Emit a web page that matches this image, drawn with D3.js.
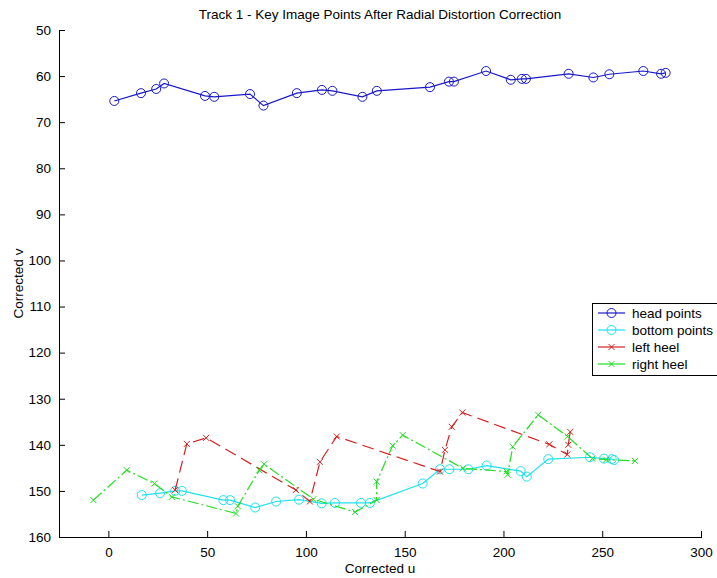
<!DOCTYPE html>
<meta charset="utf-8">
<style>
body { margin: 0; background: #fff; }
svg { font-family: "Liberation Sans", Arial, sans-serif; }
.axis path, .axis line { stroke: #000; stroke-width: 1px; }
.axis text { font-size: 13.5px; fill: #000; }
</style>
<svg width="717" height="578"></svg>
<script src="https://d3js.org/d3.v7.min.js"></script>
<script>

// head points
var headU = [3.0, 16.5, 24.2, 28.2, 48.9, 53.6, 71.7, 78.5, 95.4, 108.1, 113.4, 128.6, 135.9,
             162.8, 172.4, 174.9, 191.2, 203.7, 209.3, 211.4, 233.0, 245.5, 253.6, 270.8, 279.8, 282.1];
var headV = [65.4, 63.7, 62.8, 61.6, 64.3, 64.5, 63.9, 66.4, 63.7, 63.0, 63.2, 64.5, 63.2,
             62.4, 61.2, 61.2, 58.9, 60.8, 60.6, 60.6, 59.5, 60.3, 59.6, 58.9, 59.5, 59.3];

// bottom points
var bottomU = [16.9, 26.2, 33.8, 37.2, 58.2, 61.6, 74.3, 84.9, 96.5, 108.0, 114.7, 127.9, 132.4,
               159.1, 167.9, 172.6, 182.2, 191.5, 208.7, 211.8, 222.7, 243.8, 250.9, 254.8, 256.1];
var bottomV = [150.9, 150.5, 150.0, 150.0, 152.0, 152.0, 153.6, 152.3, 151.9, 152.7, 152.6, 152.6, 152.6,
               148.4, 145.3, 145.3, 145.3, 144.5, 145.7, 146.9, 143.1, 142.7, 143.0, 143.1, 143.3];

// left heel
var leftU = [33.8, 39.7, 49.5, 94.9, 102.0, 107.1, 115.6, 167.9, 170.4, 173.8, 179.2, 223.2, 232.3, 232.8, 233.8];
var leftV = [149.8, 139.8, 138.5, 149.8, 152.3, 143.7, 138.2, 145.8, 141.1, 136.1, 133.0, 139.9, 142.1, 140.0, 137.2];

// right heel
var rightU = [-7.6, 9.3, 23.3, 32.1, 64.6, 65.5, 76.4, 78.8, 103.8, 124.9, 135.8, 135.8, 143.9, 149.0,
              179.5, 201.6, 202.1, 204.7, 217.6, 232.5, 245.0, 252.0, 266.6];
var rightV = [152.0, 145.5, 148.4, 151.3, 154.9, 153.3, 145.5, 144.2, 151.8, 154.6, 152.0, 148.0, 140.2, 137.9,
              145.1, 145.8, 146.5, 140.4, 133.5, 138.2, 143.0, 143.2, 143.5];

var xTicks = [0, 50, 100, 150, 200, 250, 300];
var yTicks = [50, 60, 70, 80, 90, 100, 110, 120, 130, 140, 150, 160];

var series = [
  {name: "head points",   u: headU,   v: headV,   color: "#1818cc", marker: "o", dash: null},
  {name: "bottom points", u: bottomU, v: bottomV, color: "#1ee1ee", marker: "o", dash: null},
  {name: "left heel",     u: leftU,   v: leftV,   color: "#d42020", marker: "x", dash: "12,6"},
  {name: "right heel",    u: rightU,  v: rightV,  color: "#22dd22", marker: "x", dash: "11,3,2,3"}
];

var svg = d3.select("svg"),
    margin = {top: 30, right: 16, bottom: 41, left: 59},
    width = +svg.attr("width") - margin.left - margin.right,
    height = +svg.attr("height") - margin.top - margin.bottom;

var x = d3.scaleLinear().domain([-25, 300]).range([0, width]),
    y = d3.scaleLinear().domain([50, 160]).range([0, height]);

var g = svg.append("g")
    .attr("transform", "translate(" + margin.left + "," + margin.top + ")");

// axes, ticks pointing inward like matlab
g.append("g")
    .attr("class", "axis")
    .attr("transform", "translate(0," + height + ")")
    .call(d3.axisBottom(x).tickValues(xTicks).tickSizeInner(-6).tickSizeOuter(0).tickPadding(10))
  .select(".domain").attr("d", "M0,0.5H" + (width + 1));

g.append("g")
    .attr("class", "axis")
    .call(d3.axisLeft(y).tickValues(yTicks).tickSizeInner(-6).tickSizeOuter(0).tickPadding(8))
  .select(".domain").attr("d", "M0.5,0V" + height);

var line = d3.line()
    .x(function(d) { return x(d[0]); })
    .y(function(d) { return y(d[1]); });

function drawMarker(sel, type, color, r) {
  if (type === "o") {
    sel.append("circle").attr("r", r).attr("fill", "none").attr("stroke", color).attr("stroke-width", 1);
  } else {
    sel.append("path").attr("d", "M-3,-3L3,3M-3,3L3,-3").attr("stroke", color).attr("stroke-width", 1);
  }
}

series.forEach(function(s) {
  var pts = s.u.map(function(u, i) { return [u, s.v[i]]; });
  g.append("path")
      .datum(pts)
      .attr("fill", "none")
      .attr("stroke", s.color)
      .attr("stroke-width", 1.2)
      .attr("stroke-dasharray", s.dash)
      .attr("d", line);
  g.selectAll(null)
      .data(pts)
    .enter().append("g")
      .attr("transform", function(d) { return "translate(" + x(d[0]) + "," + y(d[1]) + ")"; })
      .each(function() { drawMarker(d3.select(this), s.marker, s.color, 4.5); });
});

// title and labels
svg.append("text")
    .attr("x", margin.left + width / 2)
    .attr("y", 19)
    .attr("text-anchor", "middle")
    .style("font-size", "13.5px")
    .text("Track 1 - Key Image Points After Radial Distortion Correction");

svg.append("text")
    .attr("x", margin.left + width / 2)
    .attr("y", 573)
    .attr("text-anchor", "middle")
    .style("font-size", "13.5px")
    .text("Corrected u");

svg.append("text")
    .attr("transform", "translate(23," + (margin.top + height / 2) + ") rotate(-90)")
    .attr("text-anchor", "middle")
    .style("font-size", "13.5px")
    .text("Corrected v");

// legend
var lg = svg.append("g").attr("transform", "translate(592,303)");
lg.append("rect")
    .attr("x", 0.5).attr("y", 0.5)
    .attr("width", 130).attr("height", 72)
    .attr("fill", "#fff").attr("stroke", "#000");

var item = lg.selectAll(".item")
    .data(series)
  .enter().append("g")
    .attr("class", "item")
    .attr("transform", function(d, i) { return "translate(0," + (10 + i * 17) + ")"; });

item.append("line")
    .attr("x1", 6).attr("x2", 33)
    .attr("stroke", function(d) { return d.color; })
    .attr("stroke-width", 1.2);
item.append("g")
    .attr("transform", "translate(19.5,0)")
    .each(function(d) { drawMarker(d3.select(this), d.marker, d.color, 4.5); });
item.append("text")
    .attr("x", 40).attr("dy", "0.35em")
    .style("font-size", "13.5px")
    .text(function(d) { return d.name; });

</script>
